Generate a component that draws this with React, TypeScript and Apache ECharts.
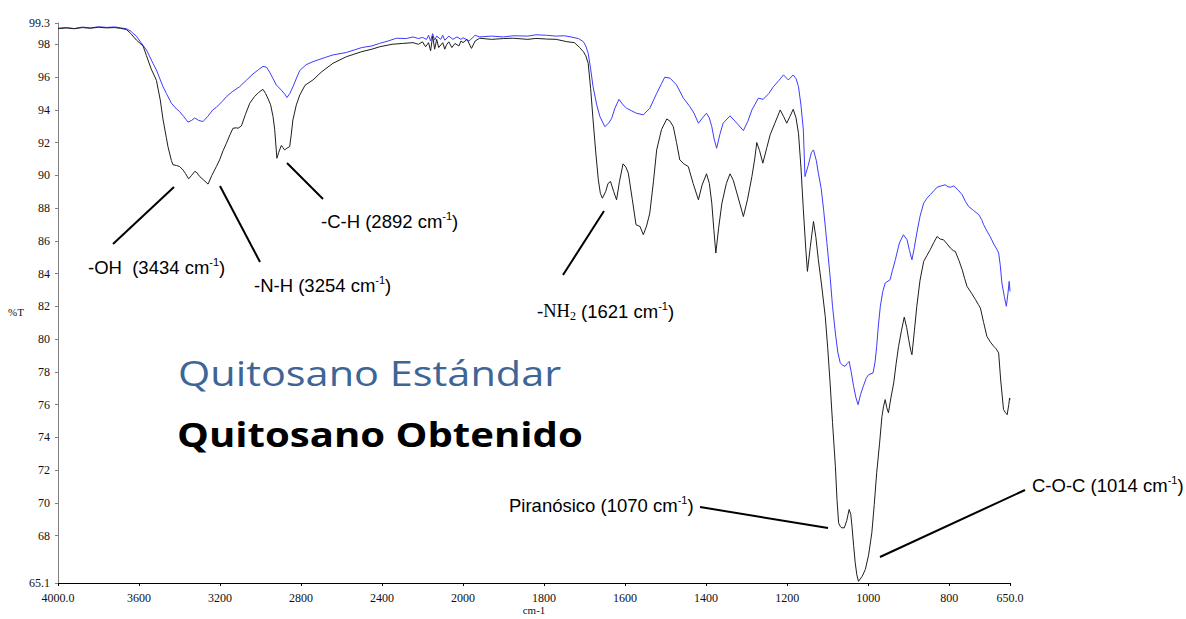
import React, { useEffect, useRef } from "react";
import * as echarts from "echarts";

// [wavenumber cm-1, %T]
const standardSpectrum: [number, number][] = [
  [4000, 98.98], [3960, 99.02], [3920, 98.96], [3880, 99.05], [3840, 99.0], [3800, 99.07],
  [3760, 99.03], [3720, 99.06], [3690, 99.0], [3662, 98.95], [3640, 98.8], [3630, 98.67],
  [3613, 98.5], [3590, 98.1], [3563, 97.65], [3531, 96.84], [3514, 96.43], [3481, 95.4],
  [3465, 95.0], [3440, 94.4], [3415, 94.05], [3400, 93.9], [3380, 93.6], [3358, 93.25],
  [3340, 93.35], [3325, 93.5], [3305, 93.35], [3284, 93.28], [3260, 93.6], [3235, 94.0],
  [3218, 94.15], [3190, 94.5], [3168, 94.8], [3140, 95.1], [3103, 95.41], [3070, 95.8],
  [3037, 96.19], [3010, 96.45], [2988, 96.65], [2970, 96.6], [2955, 96.3], [2938, 95.9],
  [2922, 95.52], [2897, 95.2], [2880, 94.95], [2869, 94.75], [2855, 95.0], [2840, 95.4],
  [2820, 96.0], [2806, 96.4], [2775, 96.75], [2741, 96.94], [2680, 97.2], [2642, 97.35],
  [2576, 97.5], [2500, 97.8], [2450, 97.9], [2411, 98.06], [2370, 98.2], [2329, 98.37],
  [2280, 98.35], [2247, 98.45], [2220, 98.35], [2200, 98.42], [2180, 98.3], [2170, 98.55],
  [2160, 98.2], [2150, 98.65], [2140, 98.25], [2130, 98.5], [2110, 98.3], [2100, 98.55],
  [2090, 98.25], [2070, 98.5], [2050, 98.3], [2030, 98.45], [2010, 98.3], [2000, 98.4],
  [1985, 98.2], [1970, 98.55], [1959, 98.45], [1930, 98.5], [1900, 98.45], [1876, 98.52],
  [1840, 98.5], [1820, 98.58], [1794, 98.55], [1770, 98.5], [1750, 98.52], [1736, 98.46],
  [1715, 98.35], [1703, 98.16], [1697, 97.9], [1691, 97.45], [1685, 96.5], [1679, 95.41],
  [1670, 94.3], [1662, 93.58], [1650, 92.97], [1640, 93.2], [1633, 93.48], [1625, 94.1],
  [1615, 94.64], [1605, 94.3], [1596, 94.09], [1585, 93.95], [1572, 93.79], [1555, 93.69],
  [1539, 94.09], [1522, 95.0], [1510, 95.6], [1502, 95.99], [1489, 95.93], [1473, 95.52],
  [1456, 94.71], [1440, 94.19], [1430, 93.8], [1419, 93.18], [1409, 93.5], [1399, 93.79],
  [1392, 93.5], [1386, 92.97], [1380, 92.2], [1374, 91.65], [1366, 92.5], [1358, 93.18],
  [1341, 93.63], [1324, 93.18], [1308, 92.73], [1297, 93.3], [1287, 93.99], [1271, 94.71],
  [1259, 94.64], [1245, 95.0], [1234, 95.41], [1220, 95.8], [1209, 96.13], [1197, 95.82],
  [1185, 96.13], [1178, 95.9], [1172, 95.41], [1166, 94.3], [1160, 92.77], [1156, 89.92],
  [1148, 90.6], [1140, 91.4], [1135, 91.55], [1128, 90.9], [1123, 90.13], [1116, 89.2],
  [1110, 87.89], [1102, 85.9], [1094, 83.82], [1088, 82.0], [1081, 80.37], [1075, 79.2],
  [1069, 78.54], [1063, 78.4], [1057, 78.33], [1052, 78.5], [1047, 78.63], [1042, 78.0],
  [1036, 77.11], [1030, 76.4], [1025, 75.99], [1019, 76.6], [1012, 77.11], [1005, 77.6],
  [999, 77.82], [988, 77.93], [983, 78.6], [979, 79.55], [975, 80.8], [970, 82.0],
  [964, 82.9], [958, 83.42], [946, 83.62], [940, 84.2], [933, 84.84], [923, 85.86],
  [913, 86.37], [904, 86.06], [898, 85.4], [892, 84.84], [886, 85.6], [880, 86.47],
  [872, 87.5], [863, 88.3], [855, 88.6], [847, 88.81], [838, 89.05], [830, 89.27],
  [820, 89.35], [810, 89.42], [803, 89.3], [797, 89.27], [789, 89.35], [778, 89.1],
  [768, 88.81], [760, 88.4], [752, 88.09], [740, 87.85], [727, 87.59], [720, 87.3],
  [715, 86.98], [707, 86.6], [699, 86.26], [690, 85.8], [683, 85.5], [678, 85.25],
  [674, 84.5], [670, 83.42], [664, 82.6], [659, 82.0], [655, 82.8], [652, 83.52], [650, 82.91],
];

const obtainedSpectrum: [number, number][] = [
  [4000, 98.95], [3960, 99.0], [3920, 98.95], [3880, 99.02], [3840, 98.98], [3800, 99.04],
  [3760, 99.0], [3720, 99.02], [3690, 98.97], [3662, 98.9], [3640, 98.65], [3613, 98.26],
  [3580, 97.9], [3563, 97.3], [3540, 96.5], [3514, 95.8], [3495, 94.6], [3481, 93.38],
  [3465, 92.3], [3457, 91.75], [3440, 90.9], [3432, 90.64], [3415, 90.6], [3399, 90.53],
  [3383, 90.33], [3370, 90.1], [3355, 89.78], [3340, 90.0], [3325, 90.23], [3317, 90.2],
  [3300, 89.92], [3280, 89.7], [3259, 89.46], [3240, 90.0], [3218, 90.53], [3202, 90.94],
  [3185, 91.5], [3168, 91.96], [3150, 92.5], [3136, 92.87], [3120, 92.9], [3111, 92.87],
  [3094, 93.02], [3075, 93.7], [3053, 94.4], [3030, 94.8], [3010, 95.05], [2988, 95.25],
  [2975, 95.0], [2960, 94.6], [2950, 94.3], [2938, 93.58], [2930, 92.8], [2919, 91.04],
  [2910, 91.4], [2897, 91.82], [2890, 91.7], [2881, 91.55], [2870, 91.65], [2856, 91.75],
  [2848, 92.5], [2840, 93.38], [2823, 94.3], [2806, 94.9], [2780, 95.5], [2741, 95.82],
  [2700, 96.3], [2642, 96.84], [2576, 97.24], [2500, 97.55], [2450, 97.7], [2411, 97.85],
  [2350, 98.0], [2300, 98.05], [2247, 98.1], [2220, 98.0], [2200, 98.15], [2185, 97.85],
  [2170, 98.1], [2160, 97.6], [2150, 98.5], [2140, 97.7], [2130, 98.3], [2120, 97.8],
  [2100, 98.1], [2090, 97.7], [2082, 97.96], [2070, 98.15], [2055, 97.8], [2040, 98.05],
  [2020, 97.9], [2010, 98.2], [2000, 98.1], [1990, 98.3], [1979, 97.75], [1970, 98.2],
  [1959, 98.37], [1930, 98.3], [1900, 98.35], [1876, 98.37], [1840, 98.3], [1820, 98.36],
  [1794, 98.32], [1770, 98.3], [1744, 98.16], [1725, 98.1], [1712, 97.8], [1703, 97.55],
  [1697, 97.3], [1691, 96.84], [1685, 95.3], [1679, 93.38], [1672, 91.3], [1666, 89.72],
  [1661, 88.9], [1656, 88.6], [1648, 89.0], [1642, 89.5], [1636, 89.62], [1628, 89.0],
  [1621, 88.5], [1614, 89.6], [1605, 90.7], [1598, 90.5], [1592, 90.13], [1582, 88.5],
  [1573, 86.98], [1563, 86.87], [1555, 86.37], [1547, 86.9], [1539, 87.69], [1530, 89.6],
  [1522, 91.55], [1510, 92.8], [1497, 93.44], [1489, 93.3], [1481, 92.97], [1473, 92.0],
  [1465, 90.94], [1455, 90.7], [1444, 90.53], [1432, 89.5], [1419, 88.5], [1410, 89.4],
  [1399, 90.09], [1392, 89.5], [1386, 88.3], [1381, 86.7], [1376, 85.25], [1369, 86.8],
  [1361, 88.3], [1350, 89.5], [1341, 90.09], [1333, 89.7], [1324, 88.91], [1316, 88.2],
  [1308, 87.48], [1298, 88.5], [1287, 89.92], [1280, 91.0], [1275, 92.0], [1268, 91.5],
  [1260, 90.74], [1250, 91.7], [1242, 92.47], [1230, 93.2], [1217, 93.99], [1209, 93.6],
  [1201, 93.18], [1193, 93.6], [1185, 94.03], [1178, 93.5], [1172, 92.57], [1166, 90.5],
  [1160, 87.89], [1154, 85.5], [1150, 84.13], [1143, 85.6], [1135, 87.18], [1129, 86.2],
  [1123, 84.84], [1115, 83.3], [1106, 81.38], [1100, 79.5], [1094, 77.32], [1088, 74.9],
  [1081, 72.23], [1077, 70.2], [1073, 68.77], [1069, 68.55], [1065, 68.47], [1059, 68.47],
  [1053, 68.9], [1047, 69.59], [1043, 69.3], [1040, 68.57], [1036, 67.4], [1032, 66.33],
  [1028, 65.6], [1024, 65.2], [1015, 65.5], [1007, 65.93], [999, 66.8], [991, 68.17],
  [985, 69.9], [979, 71.83], [972, 73.6], [966, 75.28], [962, 75.9], [958, 76.3],
  [954, 75.8], [950, 75.49], [944, 76.4], [937, 77.32], [931, 78.5], [925, 79.55],
  [918, 80.5], [911, 81.34], [905, 80.7], [900, 79.96], [895, 79.3], [892, 79.04],
  [886, 80.5], [880, 82.0], [872, 83.6], [863, 84.74], [855, 85.1], [847, 85.45],
  [838, 85.9], [830, 86.26], [822, 86.1], [814, 86.06], [805, 85.8], [797, 85.55],
  [790, 85.4], [785, 85.35], [776, 84.8], [768, 84.23], [762, 83.7], [756, 83.21],
  [745, 82.8], [735, 82.4], [728, 82.1], [723, 81.89], [715, 81.0], [707, 80.16],
  [698, 79.8], [690, 79.55], [684, 79.4], [678, 79.15], [673, 77.5], [666, 75.69],
  [661, 75.5], [657, 75.38], [653, 76.0], [651, 76.4], [650, 76.3],
];

const highRegionTicks = [4000, 3600, 3200, 2800, 2400, 2000];
const lowRegionTicks = [1800, 1600, 1400, 1200, 1000, 800, 650];
const transmittanceTicks = [65.1, 68, 70, 72, 74, 76, 78, 80, 82, 84, 86, 88, 90, 92, 94, 96, 98, 99.3];

const seriesNames = ["Quitosano Estándar", "Quitosano Obtenido"];
const seriesColors = ["#3c3cff", "#1e1e1e"];
const legendColors = ["#3e6595", "#000000"];

const bandLabels = [
  { text: "{a|-OH  (3434 cm}{s|-1}{a|)}", x: 88, y: 267 },
  { text: "{a|-N-H (3254 cm}{s|-1}{a|)}", x: 254, y: 285 },
  { text: "{a|-C-H (2892 cm}{s|-1}{a|)}", x: 321, y: 221 },
  { text: "{t|-NH}{ts|2}{a| (1621 cm}{s|-1}{a|)}", x: 537, y: 311 },
  { text: "{a|Piranósico (1070 cm}{s|-1}{a|)}", x: 509, y: 505 },
  { text: "{a|C-O-C (1014 cm}{s|-1}{a|)}", x: 1032, y: 485 },
];
const bandLeaders = [
  [113, 244, 174, 187],
  [220, 186, 260, 262],
  [287, 163, 323, 199],
  [563, 275, 604, 211],
  [700, 507, 828, 528],
  [880, 557, 1025, 490],
];

const Y_MIN = 65.1;
const Y_MAX = 99.3;

export default function App() {
  const ref = useRef<HTMLDivElement>(null);

  useEffect(() => {
    if (!ref.current) return;
    const chart = echarts.init(ref.current, undefined, { renderer: "svg" });

    const high = (d: [number, number][]) => d.filter((p) => p[0] >= 2000);
    const low = (d: [number, number][]) => d.filter((p) => p[0] <= 2000);
    const spectra = [standardSpectrum, obtainedSpectrum];

    const fmtX = (v: number) => (v === 4000 || v === 650 ? v.toFixed(1) : String(v));
    const axisLabelX = {
      fontFamily: "Liberation Serif",
      fontSize: 12,
      color: "#111",
      margin: 9,
      formatter: fmtX,
    };

    const series: any[] = [];
    spectra.forEach((d, i) => {
      series.push({
        name: seriesNames[i],
        type: "line",
        xAxisIndex: 0,
        yAxisIndex: 0,
        data: high(d),
        showSymbol: false,
        symbol: "none",
        lineStyle: { width: 1, color: seriesColors[i] },
        silent: true,
        clip: true,
      });
      series.push({
        name: seriesNames[i],
        type: "line",
        xAxisIndex: 1,
        yAxisIndex: 1,
        data: low(d),
        showSymbol: false,
        symbol: "none",
        lineStyle: { width: 1, color: seriesColors[i] },
        silent: true,
        clip: true,
      });
    });

    const annFont = "Liberation Sans";
    const rich = {
      a: { fontFamily: annFont, fontSize: 18.5, fill: "#000", color: "#000", lineHeight: 22 },
      s: { fontFamily: annFont, fontSize: 11, fill: "#000", color: "#000", verticalAlign: "top", lineHeight: 22 },
      t: { fontFamily: "Liberation Serif", fontSize: 18.5, fill: "#000", color: "#000", lineHeight: 22 },
      ts: { fontFamily: "Liberation Serif", fontSize: 12, fill: "#000", color: "#000", verticalAlign: "bottom", lineHeight: 22 },
    };

    const graphic: any[] = [];
    bandLeaders.forEach((l) => {
      graphic.push({
        type: "line",
        shape: { x1: l[0], y1: l[1], x2: l[2], y2: l[3] },
        style: { stroke: "#000", lineWidth: 2 },
        silent: true,
      });
    });
    bandLabels.forEach((b) => {
      graphic.push({
        type: "text",
        x: b.x,
        y: b.y,
        style: { text: b.text, rich, verticalAlign: "middle", align: "left" },
        silent: true,
      });
    });
    graphic.push({
      type: "text",
      x: 178,
      y: 373,
      scaleX: 1.22,
      style: {
        text: seriesNames[0],
        fontFamily: "Open Sans",
        fontSize: 34,
        fill: legendColors[0],
        verticalAlign: "middle",
      },
    });
    graphic.push({
      type: "text",
      x: 177,
      y: 434,
      scaleX: 1.18,
      style: {
        text: seriesNames[1],
        fontFamily: "Open Sans",
        fontWeight: "bold",
        fontSize: 34,
        fill: legendColors[1],
        verticalAlign: "middle",
      },
    });
    graphic.push({
      type: "text",
      x: 8,
      y: 312,
      style: { text: "%T", fontFamily: "Liberation Serif", fontSize: 11, fill: "#111", verticalAlign: "middle" },
    });
    graphic.push({
      type: "text",
      x: 534,
      y: 604,
      style: { text: "cm-1", fontFamily: "Liberation Serif", fontSize: 11, fill: "#111", align: "center", verticalAlign: "top" },
    });

    chart.setOption({
      animation: false,
      backgroundColor: "#ffffff",
      grid: [
        { left: 58, top: 23, width: 405, height: 560 },
        { left: 463, top: 23, width: 547, height: 560 },
      ],
      xAxis: [
        {
          type: "value",
          gridIndex: 0,
          min: 2000,
          max: 4000,
          interval: 400,
          inverse: true,
          splitLine: { show: false },
          axisLine: { show: true, onZero: false, lineStyle: { color: "#000", width: 1 } },
          axisTick: { show: true, length: 3, lineStyle: { color: "#000" }, customValues: highRegionTicks },
          axisLabel: { ...axisLabelX, customValues: highRegionTicks },
        },
        {
          type: "value",
          gridIndex: 1,
          min: 650,
          max: 2000,
          inverse: true,
          splitLine: { show: false },
          axisLine: { show: true, onZero: false, lineStyle: { color: "#000", width: 1 } },
          axisTick: { show: true, length: 3, lineStyle: { color: "#000" }, customValues: lowRegionTicks },
          axisLabel: { ...axisLabelX, customValues: lowRegionTicks },
        },
      ],
      yAxis: [
        {
          type: "value",
          gridIndex: 0,
          min: Y_MIN,
          max: Y_MAX,
          splitLine: { show: false },
          axisLine: { show: true, onZero: false, lineStyle: { color: "#808080", width: 1 } },
          axisTick: { show: true, length: 3, lineStyle: { color: "#808080" }, customValues: transmittanceTicks },
          axisLabel: {
            fontFamily: "Liberation Serif",
            fontSize: 12,
            color: "#111",
            margin: 8,
            customValues: transmittanceTicks,
            formatter: (v: number) => String(v),
          },
        },
        {
          type: "value",
          gridIndex: 1,
          min: Y_MIN,
          max: Y_MAX,
          show: false,
          splitLine: { show: false },
        },
      ],
      series,
      graphic,
    });

    return () => chart.dispose();
  }, []);

  return (
    <div
      ref={ref}
      style={{ position: "fixed", left: 0, top: 0, width: 1186, height: 619, background: "#fff" }}
    />
  );
}
